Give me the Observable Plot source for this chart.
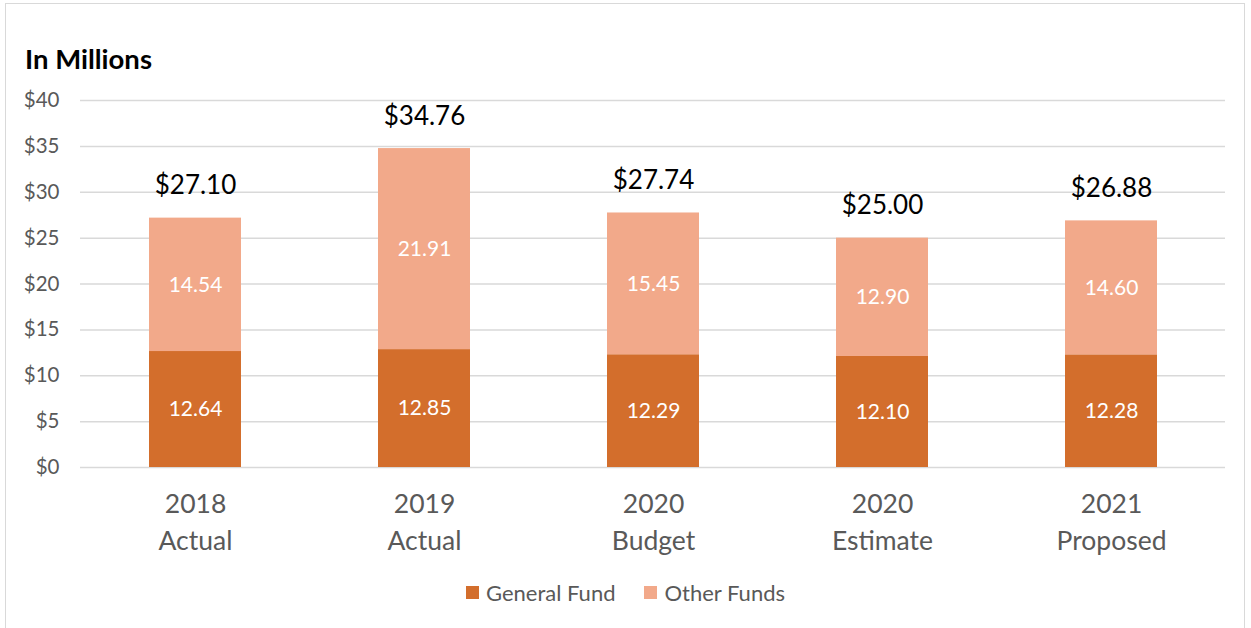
<!DOCTYPE html>
<html>
<head>
<meta charset="utf-8">
<script src="https://cdn.jsdelivr.net/npm/d3@7"></script>
<script src="https://cdn.jsdelivr.net/npm/@observablehq/plot@0.6"></script>
<style>
  body { margin: 0; background: #fff; font-family: Lato, "Open Sans", sans-serif; }
  #wrap { position: relative; width: 1251px; height: 628px; overflow: hidden; }
  #frame { position: absolute; left: 5px; top: 3px; width: 1240px; height: 660px; border: 1.5px solid #d9d9d9; box-sizing: border-box; }
  #title { position: absolute; left: 25px; top: 42px; font-size: 27.5px; font-weight: bold; color: #000; }
  #chart { position: absolute; left: 0; top: 0; }
  #legend { position: absolute; left: 0; width: 1251px; top: 579px; display: flex; justify-content: center; gap: 29px; font-size: 22px; color: #595959; }
  .item { display: flex; align-items: center; gap: 7px; }
  .sw { width: 13px; height: 13px; display: inline-block; }
</style>
</head>
<body>
<div id="wrap">
  <div id="frame"></div>
  <div id="title">In Millions</div>
  <div id="chart"></div>
  <div id="legend"></div>
</div>
<script>
const categories = ["2018\nActual", "2019\nActual", "2020\nBudget", "2020\nEstimate", "2021\nProposed"];
const generalFund = [12.64, 12.85, 12.29, 12.10, 12.28];
const otherFunds = [14.54, 21.91, 15.45, 12.90, 14.60];
const totalLabels = ["$27.10", "$34.76", "$27.74", "$25.00", "$26.88"];
const series = ["General Fund", "Other Funds"];
const colors = ["#D36E2C", "#F2A98A"];
const yTicks = [0, 5, 10, 15, 20, 25, 30, 35, 40];

const rows = [];
categories.forEach((c, i) => {
  rows.push({cat: c, fund: series[0], value: generalFund[i]});
  rows.push({cat: c, fund: series[1], value: otherFunds[i]});
});
const totals = categories.map((c, i) => ({cat: c, total: generalFund[i] + otherFunds[i], label: totalLabels[i]}));

const chart = Plot.plot({
  width: 1251,
  height: 570,
  marginLeft: 80,
  marginRight: 26,
  marginTop: 100,
  marginBottom: 103,
  style: {fontFamily: "Lato, 'Open Sans', sans-serif", background: "transparent"},
  x: {domain: categories, paddingInner: 0.6, paddingOuter: 0.3},
  y: {domain: [0, 40]},
  color: {domain: series, range: colors},
  marks: [
    Plot.ruleY(yTicks, {stroke: "#d9d9d9", strokeWidth: 1.5}),
    Plot.axisY({ticks: yTicks, tickSize: 0, tickPadding: 21, tickFormat: d => "$" + d, fontSize: 20.5, fill: "#595959", label: null}),
    Plot.axisX({tickSize: 0, tickPadding: 19, fontSize: 26.5, fill: "#595959", lineHeight: 1.4, label: null}),
    Plot.barY(rows, {x: "cat", y: "value", fill: "fund", order: series}),
    Plot.text(rows, Plot.stackY({x: "cat", y: "value", z: "fund", order: series, text: d => d.value.toFixed(2), fill: "white", fontSize: 21})),
    Plot.text(totals, {x: "cat", y: "total", text: "label", fill: "#000", fontSize: 26, dy: -32})
  ]
});
document.getElementById("chart").appendChild(chart);

const legend = document.getElementById("legend");
series.forEach((s, i) => {
  const item = document.createElement("div");
  item.className = "item";
  item.innerHTML = `<span class="sw" style="background:${colors[i]}"></span><span>${s}</span>`;
  legend.appendChild(item);
});
</script>
</body>
</html>
